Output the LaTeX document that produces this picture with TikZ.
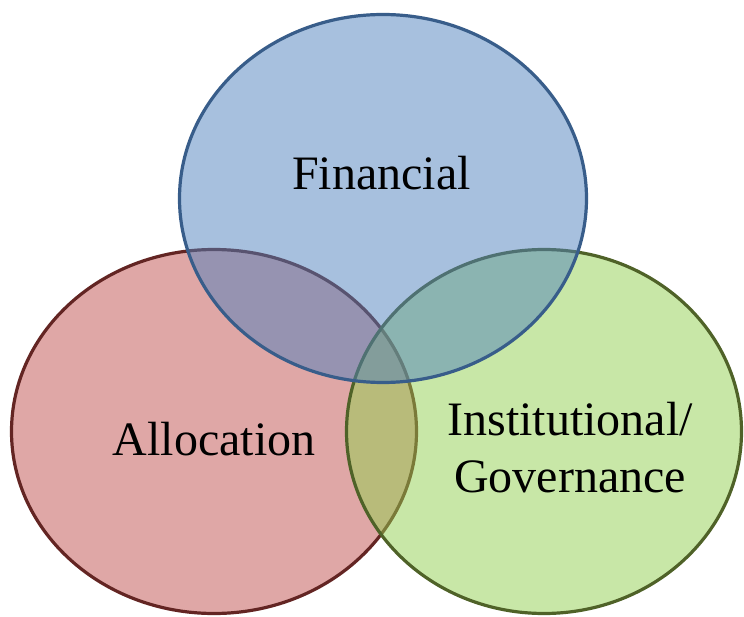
\documentclass[tikz,border=0pt]{standalone}
\usepackage{fontspec}
\setmainfont{Liberation Serif}
\usetikzlibrary{shapes.geometric}
\definecolor{bluefill}{HTML}{4F81BD}
\definecolor{blueline}{HTML}{385D8A}
\definecolor{redfill}{HTML}{C0504D}
\definecolor{redline}{HTML}{632523}
\definecolor{greenfill}{HTML}{92D050}
\definecolor{greenline}{HTML}{4F6228}
\tikzset{
  circ/.style={ellipse, inner sep=0pt, line width=3.2pt, fill opacity=0.5, draw opacity=1},
  lbl/.style={font=\fontsize{48}{57}\selectfont, align=center, anchor=base, inner sep=0pt, text=black}
}
\begin{document}
\begin{tikzpicture}[x=1pt,y=1pt]
\useasboundingbox (0,0) rectangle (744,-617);
\node[circ, draw=redline, fill=redfill, minimum width=405pt, minimum height=364pt] (alloc) at (214,-431.5) {};
\node[circ, draw=greenline, fill=greenfill, minimum width=395pt, minimum height=364pt] (inst) at (544,-431.5) {};
\node[circ, draw=blueline, fill=bluefill, minimum width=407pt, minimum height=368pt] (fin) at (383,-198.5) {};
\node[lbl] (tfin) at (381.5,-190) {Financial};
\node[lbl] (talloc) at (214,-455) {Allocation};
\node[lbl] (tinst) at (570,-492) {Institutional/\\Governance};
\end{tikzpicture}
\end{document}
